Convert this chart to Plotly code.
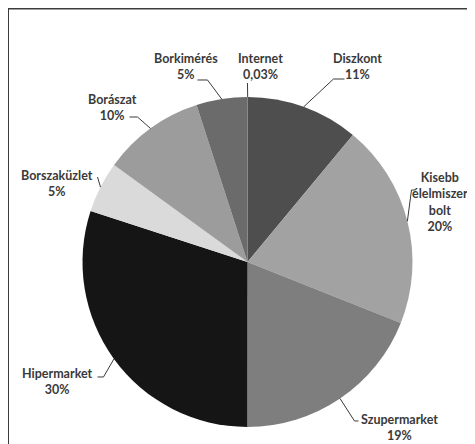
import math
import plotly.graph_objects as go

# ---- data ----
categories = ["Internet", "Diszkont", "Kisebb élelmiszer bolt", "Szupermarket",
              "Hipermarket", "Borszaküzlet", "Borászat", "Borkimérés"]
shares = [0.03, 11, 20, 19, 30, 5, 10, 5]
share_labels = ["0,03%", "11%", "20%", "19%", "30%", "5%", "10%", "5%"]
display_names = ["Internet", "Diszkont", "Kisebb<br>élelmiszer<br>bolt", "Szupermarket",
                 "Hipermarket", "Borszaküzlet", "Borászat", "Borkimérés"]

# ---- style ----
colors = ["#3a3a3a", "#4e4e4e", "#a2a2a2", "#7e7e7e", "#151515", "#dadada", "#9c9c9c", "#6b6b6b"]
W, H = 475, 444
OFF = 8  # page body margin
CX, CY, R = 247.5, 262, 165
# label block centres, relative to pie centre (px)
label_pos = [(13, -195), (110, -195), (192, -60), (152, 165),
             (-190, 119), (-191, -79), (-135, -155), (-62, -195)]
# leader line elbow / end points relative to pie centre (px)
leader_pts = [[(0, -179)],
              [(86, -183), (97, -183)],
              [(164, -72), (168, -72)],
              [(107, 159), (111, 159)],
              [(-144, 115), (-150, 115)],
              [(-150, -85)],
              [(-110, -145), (-118, -145)],
              [(-40, -182), (-50, -182)]]


def px(x, y):
    return (x - OFF) / W, 1 - (y - OFF) / H


dx0, dy1 = px(CX - R, CY - R)
dx1, dy0 = px(CX + R, CY + R)

fig = go.Figure(go.Pie(
    labels=categories, values=shares, sort=False, direction="clockwise", rotation=0,
    marker=dict(colors=colors, line=dict(width=0)),
    textinfo="none", hoverinfo="label+percent", showlegend=False,
    domain=dict(x=[dx0, dx1], y=[dy0, dy1]),
))

total = sum(shares)
cum = 0
shapes = []
annotations = []
for i, v in enumerate(shares):
    mid = (cum + v / 2) / total * 2 * math.pi
    cum += v
    ex, ey = CX + R * math.sin(mid), CY - R * math.cos(mid)
    pts = [(ex, ey)] + [(CX + dx, CY + dy) for dx, dy in leader_pts[i]]
    path = ""
    for j, (x, y) in enumerate(pts):
        X, Y = px(x, y)
        path += ("M" if j == 0 else " L") + f"{X:.5f},{Y:.5f}"
    shapes.append(dict(type="path", xref="paper", yref="paper", path=path,
                       line=dict(color="#3a3a3a", width=1)))
    lx, ly = px(CX + label_pos[i][0], CY + label_pos[i][1])
    annotations.append(dict(x=lx, y=ly, xref="paper", yref="paper", showarrow=False,
                            text=f"{display_names[i]}<br>{share_labels[i]}",
                            font=dict(family="Lato", size=12.5, color="#3a3a3a", weight="bold"),
                            align="center", xanchor="center", yanchor="middle"))

# chart frame (top and left edges visible)
shapes.append(dict(type="rect", xref="paper", yref="paper",
                   x0=0, y0=-0.1, x1=1.1, y1=1 - 0.5 / H,
                   line=dict(color="#3c3c3c", width=2)))

fig.update_layout(width=W, height=H, margin=dict(l=0, r=0, t=0, b=0),
                  paper_bgcolor="white", plot_bgcolor="white",
                  shapes=shapes, annotations=annotations)
fig.write_html("out.html")
